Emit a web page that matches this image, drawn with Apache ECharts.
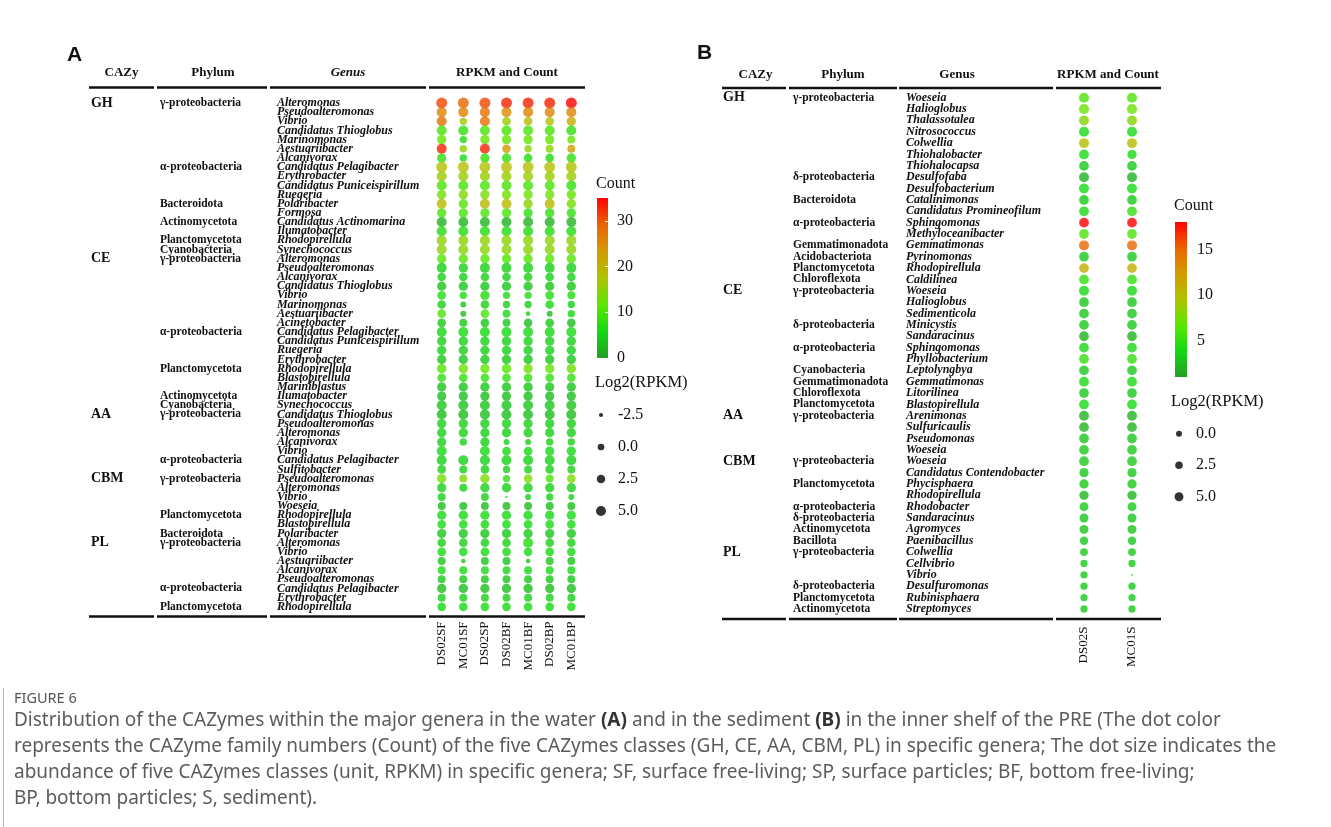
<!DOCTYPE html>
<html>
<head>
<meta charset="utf-8">
<title>CAZymes within the major genera</title>
<script src="https://cdn.jsdelivr.net/npm/echarts@6/dist/echarts.min.js"></script>
<style>
  html, body { margin: 0; padding: 0; background: #fff; }
  #chart { width: 1331px; height: 827px; }
</style>
</head>
<body>
<div id="chart"></div>
<script>
// ---- panel A: water samples ----
const samplesA = ['DS02SF', 'MC01SF', 'DS02SP', 'DS02BF', 'MC01BF', 'DS02BP', 'MC01BP'];
const genusA = [
  'Alteromonas', 'Pseudoalteromonas', 'Vibrio', 'Candidatus Thioglobus', 'Marinomonas', 'Aestuariibacter', 'Alcanivorax',
  'Candidatus Pelagibacter', 'Erythrobacter', 'Candidatus Puniceispirillum', 'Ruegeria', 'Polaribacter', 'Formosa',
  'Candidatus Actinomarina', 'Ilumatobacter', 'Rhodopirellula', 'Synechococcus',
  'Alteromonas', 'Pseudoalteromonas', 'Alcanivorax', 'Candidatus Thioglobus', 'Vibrio', 'Marinomonas', 'Aestuariibacter',
  'Acinetobacter', 'Candidatus Pelagibacter', 'Candidatus Puniceispirillum', 'Ruegeria', 'Erythrobacter', 'Rhodopirellula',
  'Blastopirellula', 'Mariniblastus', 'Ilumatobacter', 'Synechococcus',
  'Candidatus Thioglobus', 'Pseudoalteromonas', 'Alteromonas', 'Alcanivorax', 'Vibrio', 'Candidatus Pelagibacter', 'Sulfitobacter',
  'Pseudoalteromonas', 'Alteromonas', 'Vibrio', 'Woeseia', 'Rhodopirellula', 'Blastopirellula', 'Polaribacter',
  'Alteromonas', 'Vibrio', 'Aestuariibacter', 'Alcanivorax', 'Pseudoalteromonas', 'Candidatus Pelagibacter', 'Erythrobacter', 'Rhodopirellula'
];
// [row, label]
const phylumA = [
  [0, 'γ-proteobacteria'], [7, 'α-proteobacteria'], [11, 'Bacteroidota'], [13, 'Actinomycetota'], [15, 'Planctomycetota'],
  [16, 'Cyanobacteria'], [17, 'γ-proteobacteria'], [25, 'α-proteobacteria'], [29, 'Planctomycetota'], [32, 'Actinomycetota'],
  [33, 'Cyanobacteria'], [34, 'γ-proteobacteria'], [39, 'α-proteobacteria'], [41, 'γ-proteobacteria'], [45, 'Planctomycetota'],
  [47, 'Bacteroidota'], [48, 'γ-proteobacteria'], [53, 'α-proteobacteria'], [55, 'Planctomycetota']
];
const cazyA = [[0, 'GH'], [17, 'CE'], [34, 'AA'], [41, 'CBM'], [48, 'PL']];

// family numbers (Count), one row per genus, one column per sample
const countA = [
  [31, 29, 31, 33, 33, 33, 35], [26, 26, 28, 25, 26, 26, 26], [28, 16, 28, 16, 19, 18, 21], [10, 8, 10, 10, 10, 10, 8],
  [12, 7, 12, 12, 12, 12, 12], [33, 15, 33, 24, 15, 15, 23], [8, 6, 8, 8, 7, 7, 8], [18, 18, 18, 18, 18, 18, 18],
  [16, 16, 16, 16, 16, 16, 16], [10, 10, 10, 10, 10, 10, 8], [13, 14, 14, 13, 13, 13, 12], [19, 11, 19, 19, 15, 19, 13],
  [10, 10, 10, 10, 8, 8, 8], [2, 2, 2, 2, 2, 2, 2], [7, 7, 7, 7, 7, 7, 7], [15, 15, 15, 15, 15, 15, 15],
  [15, 15, 15, 15, 15, 15, 15],
  [11, 11, 11, 11, 11, 11, 11], [5, 5, 5, 5, 5, 5, 5], [5, 5, 5, 5, 5, 5, 5], [4, 4, 4, 4, 4, 4, 4],
  [7, 7, 7, 7, 7, 7, 7], [5, 4, 5, 5, 5, 6, 5], [10, 3, 10, 6, 5, 3, 6], [4, 4, 4, 4, 3, 4, 3],
  [6, 6, 6, 6, 6, 6, 6], [5, 5, 5, 5, 5, 5, 5], [5, 5, 5, 5, 5, 5, 5], [4, 4, 4, 4, 4, 4, 4],
  [11, 13, 12, 11, 13, 12, 13], [8, 8, 8, 8, 8, 8, 8], [4, 4, 4, 4, 4, 4, 4], [3, 3, 3, 3, 3, 3, 3],
  [4, 4, 4, 4, 4, 4, 4],
  [3, 3, 3, 3, 3, 3, 3], [5, 5, 5, 5, 5, 5, 5], [5, 5, 5, 5, 5, 5, 5], [5, 5, 5, 5, 5, 5, 5],
  [6, null, 6, 6, 6, 6, 6], [5, 5, 5, 5, 5, 5, 5], [5, 5, 5, 5, 5, 5, 5],
  [13, 14, 14, 8, 14, 10, 14], [5, 5, 5, 5, 5, 5, 5], [5, null, 5, 5, 5, 5, 5], [3, 3, 3, 3, 3, 3, 3],
  [6, 6, 6, 6, 6, 6, 6], [6, 6, 6, 6, 6, 6, 6], [4, 4, 4, 4, 4, 4, 4],
  [5, 5, 5, 5, 7, 5, 5], [6, 6, 6, 6, 6, 6, 6], [4, 4, 4, 4, 4, 4, 4], [6, 6, 6, 6, 6, 6, 6],
  [4, 4, 4, 4, 4, 4, 4], [3, 3, 3, 3, 3, 3, 3], [5, 5, 5, 5, 5, 5, 5], [6, 6, 6, 6, 6, 6, 6]
];
// abundance, Log2(RPKM)
const rpkmA = [
  [6.9, 6.9, 6.9, 6.9, 6.9, 6.9, 6.9], [5, 5, 5, 5, 5, 5, 5], [5, 0.8, 5, 2.7, 2.7, 2.7, 3.8], [5, 5, 5, 5, 5, 5, 5],
  [3.8, 0.8, 3.8, 3.8, 3.8, 3.8, 1.7], [5, 0.8, 5, 2.7, 0.8, 1.7, 1.7], [3.8, 0.8, 3.8, 3.8, 2.7, 2.7, 3.8], [6.9, 6.9, 6.9, 6.9, 6.9, 6.9, 6.9],
  [5, 5, 5, 5, 5, 5, 5], [5, 5, 5, 5, 5, 5, 5], [3.8, 3.8, 3.8, 3.8, 3.8, 3.8, 3.8], [5, 3.8, 5, 5, 3.8, 5, 3.8],
  [3.8, 3.8, 3.8, 3.8, 3.8, 3.8, 3.8], [5, 5, 5, 5, 5, 5, 5], [5, 5, 5, 5, 5, 5, 5], [5, 5, 5, 5, 5, 5, 5],
  [5, 5, 5, 5, 5, 5, 5],
  [3.8, 3.8, 3.8, 3.8, 3.8, 3.8, 3.8], [5, 3.8, 5, 5, 5, 5, 5], [2.7, 2.7, 2.7, 2.7, 2.7, 2.7, 2.7], [3.8, 3.8, 3.8, 3.8, 3.8, 3.8, 3.8],
  [2.7, 0.8, 3.8, 0.8, 0.8, 2.7, 1.7], [2.7, -0.8, 2.7, 0.8, 0.8, 2.7, 0.8], [2.7, -0.8, 2.7, 1.7, -2.1, -0.8, 0.8], [2.7, 1.7, 2.7, 1.7, 2.7, 2.7, 2.7],
  [5, 5, 5, 5, 5, 5, 5], [3.8, 3.8, 3.8, 3.8, 3.8, 3.8, 3.8], [3.8, 3.8, 3.8, 3.8, 3.8, 3.8, 3.8], [3.8, 3.8, 3.8, 3.8, 3.8, 3.8, 3.8],
  [3.8, 3.8, 3.8, 3.8, 3.8, 3.8, 3.8], [2.7, 2.7, 2.7, 2.7, 2.7, 2.7, 2.7], [3.8, 3.8, 3.8, 3.8, 3.8, 3.8, 3.8], [3.8, 3.8, 3.8, 3.8, 3.8, 3.8, 3.8],
  [5, 5, 5, 5, 5, 5, 5],
  [5, 5, 5, 5, 5, 5, 5], [3.8, 3.8, 3.8, 3.8, 3.8, 3.8, 3.8], [3.8, 3.8, 3.8, 3.8, 3.8, 3.8, 3.8], [3.8, 0.8, 3.8, -0.8, -0.8, 0.8, 0.8],
  [5, null, 5, 2.7, 2.7, 3.8, 3.8], [5, 5, 5, 5, 5, 5, 5], [2.7, 1.7, 2.7, 0.8, 1.7, 2.7, 1.7],
  [3.8, 1.7, 3.8, 0.8, 2.7, 1.7, 2.7], [3.8, 1.7, 3.8, 3.8, 3.8, 3.8, 3.8], [1.7, null, 1.7, -3.7, -0.8, 0.8, -0.8], [1.7, 1.7, 1.7, 1.7, 1.7, 1.7, 1.7],
  [3.8, 3.8, 3.8, 3.8, 3.8, 3.8, 3.8], [2.7, 2.7, 2.7, 2.7, 2.7, 2.7, 2.7], [3.8, 3.8, 3.8, 3.8, 3.8, 3.8, 3.8],
  [2.7, 2.7, 2.7, 2.7, 5, 2.7, 2.7], [2.7, 2.7, 2.7, 2.7, 2.7, 2.7, 2.7], [1.7, -2.1, 1.7, 1.7, -2.1, 1.7, 1.7], [1.7, 1.7, 1.7, 1.7, 1.7, 1.7, 1.7],
  [1.7, 1.7, 1.7, 1.7, 1.7, 1.7, 1.7], [3.8, 3.8, 3.8, 3.8, 3.8, 3.8, 3.8], [1.7, 1.7, 1.7, 1.7, 1.7, 1.7, 1.7], [2.7, 2.7, 2.7, 2.7, 2.7, 2.7, 2.7]
];

// ---- panel B: sediment samples ----
const samplesB = ['DS02S', 'MC01S'];
const genusB = [
  'Woeseia', 'Halioglobus', 'Thalassotalea', 'Nitrosococcus', 'Colwellia', 'Thiohalobacter', 'Thiohalocapsa', 'Desulfofaba',
  'Desulfobacterium', 'Catalinimonas', 'Candidatus Promineofilum', 'Sphingomonas', 'Methyloceanibacter', 'Gemmatimonas',
  'Pyrinomonas', 'Rhodopirellula', 'Caldilinea',
  'Woeseia', 'Halioglobus', 'Sedimenticola', 'Minicystis', 'Sandaracinus', 'Sphingomonas', 'Phyllobacterium', 'Leptolyngbya',
  'Gemmatimonas', 'Litorilinea', 'Blastopirellula',
  'Arenimonas', 'Sulfuricaulis', 'Pseudomonas', 'Woeseia',
  'Woeseia', 'Candidatus Contendobacter', 'Phycisphaera', 'Rhodopirellula', 'Rhodobacter', 'Sandaracinus', 'Agromyces', 'Paenibacillus',
  'Colwellia', 'Cellvibrio', 'Vibrio', 'Desulfuromonas', 'Rubinisphaera', 'Streptomyces'
];
const phylumB = [
  [0, 'γ-proteobacteria'], [7, 'δ-proteobacteria'], [9, 'Bacteroidota'], [11, 'α-proteobacteria'], [13, 'Gemmatimonadota'],
  [14, 'Acidobacteriota'], [15, 'Planctomycetota'], [16, 'Chloroflexota'], [17, 'γ-proteobacteria'], [20, 'δ-proteobacteria'],
  [22, 'α-proteobacteria'], [24, 'Cyanobacteria'], [25, 'Gemmatimonadota'], [26, 'Chloroflexota'], [27, 'Planctomycetota'],
  [28, 'γ-proteobacteria'], [32, 'γ-proteobacteria'], [34, 'Planctomycetota'], [36, 'α-proteobacteria'], [37, 'δ-proteobacteria'],
  [38, 'Actinomycetota'], [39, 'Bacillota'], [40, 'γ-proteobacteria'], [43, 'δ-proteobacteria'], [44, 'Planctomycetota'],
  [45, 'Actinomycetota']
];
const cazyB = [[0, 'GH'], [17, 'CE'], [28, 'AA'], [32, 'CBM'], [40, 'PL']];
const countB = [
  [6, 6], [7, 7], [8, 8], [4, 4], [10, 10], [4, 4], [3, 3], [2, 2], [4, 4], [3, 3], [4, 5], [18, 18], [6, 6], [15, 15],
  [3, 3], [11, 11], [5, 5],
  [4, 4], [3, 3], [3, 3], [3, 3], [2, 2], [4, 4], [5, 5], [3, 3], [4, 4], [3, 3], [4, 4],
  [2, 2], [2, 2], [3, 3], [3, 3],
  [3, 3], [3, 3], [3, 3], [2, 2], [3, 3], [3, 3], [3, 3], [3, 3],
  [3, 3], [3, 3], [3, 3], [3, 3], [3, 3], [3, 3]
];
const rpkmB = [
  [7.5, 7.5], [7.5, 7.5], [7.5, 7.5], [7.5, 7.5], [7.5, 7.5], [7, 6], [7, 7], [7.5, 7.5], [7.5, 7.5], [7, 7], [7, 7], [7, 7], [7, 7], [7.5, 7.5],
  [7, 7], [7, 7], [7, 7],
  [7.5, 7.5], [7, 7], [7, 7], [7, 7], [7, 7], [7, 7], [7, 7], [7, 7], [7, 7], [7, 7], [7, 7],
  [7.5, 7.5], [7, 7], [7, 7], [7, 7],
  [7, 7], [6, 6], [6, 6], [6, 6], [5.3, 5.3], [5.3, 5.3], [5.3, 5.3], [4, 4],
  [3, 3], [2, 2], [2, -3.8], [2, 2], [2, 2], [2, 2]
];

// ---- legends ----
const countPalette = ['#24a024', '#14d814', '#5be700', '#aec300', '#d29b00', '#eb6400', '#ff0000'];
const countRangeA = [0, 35];
const countRangeB = [1, 18];
const sizeTicksA = [-2.5, 0, 2.5, 5];
const sizeTicksB = [0, 2.5, 5];

const serif = '"Liberation Serif", "Times New Roman", serif';
const sans = '"Noto Sans", "Open Sans", sans-serif';
const sizeA = v => Math.sqrt(Math.max(1, 45 + 11 * v));
const sizeB = v => Math.sqrt(Math.max(1, 36 + 8.5 * v));

function fullColumn(n, pairs) {
  const out = new Array(n).fill('');
  pairs.forEach(p => { out[p[0]] = p[1]; });
  return out;
}

function toPoints(count, rpkm) {
  const pts = [];
  count.forEach((row, r) => row.forEach((c, s) => {
    if (c == null || rpkm[r][s] == null) return;
    pts.push([s, r, c, rpkm[r][s]]);
  }));
  return pts;
}

function labelAxis(gridIndex, labels, margin, style) {
  return {
    type: 'category', gridIndex, inverse: true, position: 'left',
    data: labels.map((_, i) => String(i)),
    axisLine: { show: false }, axisTick: { show: false }, splitLine: { show: false },
    axisLabel: Object.assign({
      interval: 0, margin, align: 'left', fontFamily: serif, fontWeight: 'bold', color: '#111',
      formatter: v => labels[+v]
    }, style)
  };
}

function sampleAxis(gridIndex, samples, margin) {
  return {
    type: 'category', gridIndex, data: samples,
    axisLine: { show: false }, axisTick: { show: false }, splitLine: { show: false },
    axisLabel: { interval: 0, rotate: 90, margin, fontFamily: serif, fontSize: 13, color: '#111' }
  };
}

function hiddenAxis(gridIndex) {
  return { type: 'category', gridIndex, data: ['k'], show: false };
}

function barGradient() {
  return new echarts.graphic.LinearGradient(0, 1, 0, 0,
    countPalette.map((c, i) => ({ offset: i / (countPalette.length - 1), color: c })));
}

function txt(text, x, y, size, opts) {
  return {
    type: 'text', silent: true,
    style: Object.assign({ text, x, y, fontSize: size, fontFamily: serif, fill: '#111', align: 'left', verticalAlign: 'middle' }, opts)
  };
}

function rule(x1, x2, y) {
  return { type: 'line', silent: true, shape: { x1, y1: y, x2, y2: y }, style: { stroke: '#111', lineWidth: 2.5 } };
}

// caption line
function cap(text, y) {
  return txt(text, 14, y, 19, {
    fontFamily: sans, fill: '#5c5c5c',
    rich: { b: { fontWeight: 'bold', fill: '#333', fontSize: 19, fontFamily: sans } }
  });
}

const nA = genusA.length;
const nB = genusB.length;

const chart = echarts.init(document.getElementById('chart'));

const option = {
  animation: false,
  backgroundColor: '#fff',
  grid: [
    { left: 430.9, top: 98.4, width: 151.2, height: 513 },
    { left: 1060, top: 92, width: 96, height: 522.6 },
    { left: 597, top: 198, width: 11, height: 160 },
    { left: 1175, top: 222, width: 12, height: 164.1 },
    { left: 596, top: 399, width: 10, height: 128 },
    { left: 1174, top: 418, width: 10, height: 94.5 }
  ],
  xAxis: [
    sampleAxis(0, samplesA, 10),
    sampleAxis(1, samplesB, 12),
    hiddenAxis(2), hiddenAxis(3), hiddenAxis(4), hiddenAxis(5)
  ],
  yAxis: [
    labelAxis(0, genusA, 154, { fontStyle: 'italic', fontSize: 12 }),
    labelAxis(0, fullColumn(nA, phylumA), 271, { fontSize: 11.5 }),
    labelAxis(0, fullColumn(nA, cazyA), 340, { fontSize: 14 }),
    labelAxis(1, genusB, 154, { fontStyle: 'italic', fontSize: 12 }),
    labelAxis(1, fullColumn(nB, phylumB), 267, { fontSize: 11.5 }),
    labelAxis(1, fullColumn(nB, cazyB), 337, { fontSize: 14 }),
    {
      type: 'value', gridIndex: 2, position: 'right', min: countRangeA[0], max: countRangeA[1], interval: 10, z: 10,
      axisLine: { show: false }, splitLine: { show: false },
      axisTick: { show: true, inside: true, length: 3, lineStyle: { color: '#fff' } },
      axisLabel: { margin: 9, fontFamily: serif, fontSize: 16, color: '#111', showMaxLabel: false,
        formatter: v => (v % 10 === 0 ? v : '') }
    },
    {
      type: 'value', gridIndex: 3, position: 'right', min: 0, max: countRangeB[1], interval: 5, z: 10,
      axisLine: { show: false }, splitLine: { show: false },
      axisTick: { show: false },
      axisLabel: { margin: 10, fontFamily: serif, fontSize: 16, color: '#111', showMinLabel: false, showMaxLabel: false,
        formatter: v => (v % 5 === 0 && v > 0 ? v : '') }
    },
    {
      type: 'category', gridIndex: 4, position: 'right', inverse: true, data: sizeTicksA.map(v => v.toFixed(1)),
      axisLine: { show: false }, axisTick: { show: false },
      axisLabel: { margin: 12, fontFamily: serif, fontSize: 16, color: '#111' }
    },
    {
      type: 'category', gridIndex: 5, position: 'right', inverse: true, data: sizeTicksB.map(v => v.toFixed(1)),
      axisLine: { show: false }, axisTick: { show: false },
      axisLabel: { margin: 12, fontFamily: serif, fontSize: 16, color: '#111' }
    }
  ],
  visualMap: [
    { type: 'continuous', show: false, seriesIndex: 0, dimension: 2, min: countRangeA[0], max: countRangeA[1],
      inRange: { color: countPalette } },
    { type: 'continuous', show: false, seriesIndex: 1, dimension: 2, min: countRangeB[0], max: countRangeB[1],
      inRange: { color: countPalette } }
  ],
  series: [
    { type: 'scatter', xAxisIndex: 0, yAxisIndex: 0, data: toPoints(countA, rpkmA),
      symbolSize: val => sizeA(val[3]) },
    { type: 'scatter', xAxisIndex: 1, yAxisIndex: 3, data: toPoints(countB, rpkmB),
      symbolSize: val => sizeB(val[3]) },
    { type: 'bar', xAxisIndex: 2, yAxisIndex: 6, data: [countRangeA[1]], barWidth: '100%',
      itemStyle: { color: barGradient() } },
    { type: 'bar', xAxisIndex: 3, yAxisIndex: 7, stack: 'cb', data: [countRangeB[0]], barWidth: '100%',
      itemStyle: { color: 'rgba(0,0,0,0)' } },
    { type: 'bar', xAxisIndex: 3, yAxisIndex: 7, stack: 'cb', data: [countRangeB[1] - countRangeB[0]], barWidth: '100%',
      itemStyle: { color: barGradient() } },
    { type: 'scatter', xAxisIndex: 4, yAxisIndex: 8, data: sizeTicksA.map((v, i) => [0, i, v]),
      symbolSize: val => sizeA(val[2]), itemStyle: { color: '#000' } },
    { type: 'scatter', xAxisIndex: 5, yAxisIndex: 9, data: sizeTicksB.map((v, i) => [0, i, v]),
      symbolSize: val => sizeB(val[2]), itemStyle: { color: '#000' } }
  ],
  graphic: [
    // panel letters
    txt('A', 67, 55, 21, { fontFamily: '"Liberation Sans", Arial, sans-serif', fontWeight: 'bold' }),
    txt('B', 697, 53, 21, { fontFamily: '"Liberation Sans", Arial, sans-serif', fontWeight: 'bold' }),
    // table headers
    txt('CAZy', 121.5, 73, 13, { fontWeight: 'bold', align: 'center' }),
    txt('Phylum', 213, 73, 13, { fontWeight: 'bold', align: 'center' }),
    txt('Genus', 348, 73, 13, { fontWeight: 'bold', fontStyle: 'italic', align: 'center' }),
    txt('RPKM and Count', 507, 73, 13, { fontWeight: 'bold', align: 'center' }),
    txt('CAZy', 755.5, 75, 13, { fontWeight: 'bold', align: 'center' }),
    txt('Phylum', 843, 75, 13, { fontWeight: 'bold', align: 'center' }),
    txt('Genus', 957, 75, 13, { fontWeight: 'bold', align: 'center' }),
    txt('RPKM and Count', 1108, 75, 13, { fontWeight: 'bold', align: 'center' }),
    // table rules
    rule(89, 154, 87.5), rule(157, 267, 87.5), rule(270, 426, 87.5), rule(429, 585, 87.5),
    rule(89, 154, 616.5), rule(157, 267, 616.5), rule(270, 426, 616.5), rule(429, 585, 616.5),
    rule(722, 786, 88), rule(789, 897, 88), rule(899, 1053, 88), rule(1056, 1161, 88),
    rule(722, 786, 619), rule(789, 897, 619), rule(899, 1053, 619), rule(1056, 1161, 619),
    // legend titles
    txt('Count', 596, 184, 16),
    txt('Log2(RPKM)', 595, 383, 16.5),
    txt('Count', 1174, 206, 16),
    txt('Log2(RPKM)', 1171, 402, 16.5),
    // caption
    { type: 'line', silent: true, shape: { x1: 3.5, y1: 688, x2: 3.5, y2: 827 }, style: { stroke: '#bbb', lineWidth: 1 } },
    txt('FIGURE 6', 14, 699, 14.5, { fontFamily: sans, fill: '#555' }),
    cap('Distribution of the CAZymes within the major genera in the water {b|(A)} and in the sediment {b|(B)} in the inner shelf of the PRE (The dot color', 721),
    cap('represents the CAZyme family numbers (Count) of the five CAZymes classes (GH, CE, AA, CBM, PL) in specific genera; The dot size indicates the', 747),
    cap('abundance of five CAZymes classes (unit, RPKM) in specific genera; SF, surface free-living; SP, surface particles; BF, bottom free-living;', 773),
    cap('BP, bottom particles; S, sediment).', 799)
  ]
};

chart.setOption(option);
</script>
</body>
</html>
